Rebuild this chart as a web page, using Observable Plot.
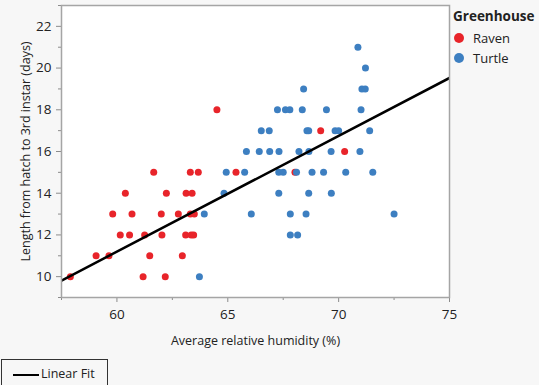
<!DOCTYPE html>
<html>
<head>
<meta charset="utf-8">
<script src="https://cdn.jsdelivr.net/npm/d3@7"></script>
<script src="https://cdn.jsdelivr.net/npm/@observablehq/plot@0.6"></script>
<style>
  html, body { margin: 0; padding: 0; background: #f7f7f7; }
  #wrap { position: relative; width: 539px; height: 385px; overflow: hidden; background: #f7f7f7; font-family: "Open Sans", sans-serif; color: #222; }
  #chart { position: absolute; left: 0; top: 0; }
  #legend { position: absolute; left: 453px; top: 7px; font-size: 13px; }
  #legend .title { font-weight: bold; font-size: 13.5px; margin-bottom: 3px; }
  #legend .item { display: flex; align-items: center; height: 20px; }
  #legend .sw { width: 10px; height: 10px; border-radius: 50%; margin: 0 9px 0 1px; }
  #fit { position: absolute; left: 1px; top: 359px; width: 107px; height: 40px; border: 1.5px solid #333; box-sizing: border-box; font-size: 12.5px; }
  #fit .ln { position: absolute; left: 11px; top: 14px; width: 26px; height: 2px; background: #000; }
  #fit .tx { position: absolute; left: 39px; top: 5px; }
</style>
</head>
<body>
<div id="wrap">
  <div id="chart"></div>
  <div id="legend"></div>
  <div id="fit"><div class="ln"></div><div class="tx">Linear Fit</div></div>
</div>
<script>
// ---- data ----
const groups = ["Raven", "Turtle"];
const groupColors = ["#e8242a", "#3d7fc1"];

const ravenX = [57.9, 61.18, 62.18,
  59.06, 59.64, 61.48, 62.95,
  60.15, 60.57, 61.25, 62.03, 63.10, 63.35, 63.46,
  59.81, 60.68, 62.0, 62.77, 63.31, 63.49,
  60.38, 62.23, 63.12, 63.39,
  61.66, 63.31, 63.67, 65.37, 68.03,
  70.27,
  69.19,
  64.51];
const ravenY = [10, 10, 10,
  11, 11, 11, 11,
  12, 12, 12, 12, 12, 12, 12,
  13, 13, 13, 13, 13, 13,
  14, 14, 14, 14,
  15, 15, 15, 15, 15,
  16,
  17,
  18];

const turtleX = [63.72,
  67.82, 68.15,
  63.94, 66.06, 67.82, 68.53, 72.5,
  64.83, 67.30, 68.65, 69.67,
  64.93, 65.76, 67.30, 67.5, 68.1, 68.8, 69.32, 70.32, 71.54,
  65.84, 66.42, 66.89, 67.31, 68.21, 68.66, 69.66, 70.96,
  66.51, 66.87, 68.57, 68.65, 69.84, 70.0, 71.40,
  67.24, 67.6, 67.8, 68.36, 69.45, 71.01,
  68.42, 71.05, 71.2,
  71.21,
  70.87];
const turtleY = [10,
  12, 12,
  13, 13, 13, 13, 13,
  14, 14, 14, 14,
  15, 15, 15, 15, 15, 15, 15, 15, 15,
  16, 16, 16, 16, 16, 16, 16, 16,
  17, 17, 17, 17, 17, 17, 17,
  18, 18, 18, 18, 18, 18,
  19, 19, 19,
  20,
  21];

// linear fit coefficients
const fitIntercept = -22.1;
const fitSlope = 0.555;

const xDomain = [57.5, 75];
const yDomain = [9, 23];
const xTicks = [60, 65, 70, 75];
const xMinorTicks = [57.5, 62.5, 67.5, 72.5];
const yTicks = [10, 12, 14, 16, 18, 20, 22];
const yMinorTicks = [9, 11, 13, 15, 17, 19, 21, 23];
const xLabel = "Average relative humidity (%)";
const yLabel = "Length from hatch to 3rd instar (days)";
const legendTitle = "Greenhouse";

// ---- build table ----
const data = [
  ...ravenX.map((x, i) => ({x, y: ravenY[i], g: "Raven"})),
  ...turtleX.map((x, i) => ({x, y: turtleY[i], g: "Turtle"}))
];
const fit = xDomain.map(x => ({x, y: fitIntercept + fitSlope * x}));

const chart = Plot.plot({
  width: 539,
  height: 350,
  marginLeft: 61,
  marginRight: 90,
  marginTop: 5,
  marginBottom: 53,
  style: {background: "transparent", fontFamily: "'Open Sans', sans-serif", fontSize: "13px", color: "#222"},
  x: {domain: xDomain},
  y: {domain: yDomain},
  color: {domain: groups, range: groupColors},
  marks: [
    Plot.frame({fill: "white", stroke: null}),
    Plot.dot(data, {x: "x", y: "y", fill: "g", r: 3.5}),
    Plot.line(fit, {x: "x", y: "y", stroke: "black", strokeWidth: 2.5, clip: true}),
    Plot.axisX(xTicks, {tickSize: 5, tickPadding: 7, stroke: "#8c8c8c", fill: "#222", fontSize: 13.5,
      label: xLabel, labelAnchor: "center", labelArrow: "none", labelOffset: 47}),
    Plot.axisX(xMinorTicks, {tickSize: 3, stroke: "#8c8c8c", text: null, label: null}),
    Plot.axisY(yTicks, {tickSize: 5, tickPadding: 5, stroke: "#8c8c8c", fill: "#222", fontSize: 13.5,
      label: yLabel, labelAnchor: "center", labelArrow: "none", labelOffset: 40}),
    Plot.axisY(yMinorTicks, {tickSize: 3, stroke: "#8c8c8c", text: null, label: null}),
    Plot.frame({stroke: "#a5a5a5", strokeWidth: 1.5})
  ]
});
document.getElementById("chart").appendChild(chart);

chart.querySelectorAll("g[aria-label='x-axis label'] text, g[aria-label='y-axis label'] text").forEach(t => t.setAttribute("font-size", "12.5"));

// ---- Greenhouse legend ----
const lg = document.getElementById("legend");
const t = document.createElement("div");
t.className = "title"; t.textContent = legendTitle; lg.appendChild(t);
groups.forEach((g, i) => {
  const it = document.createElement("div"); it.className = "item";
  const sw = document.createElement("div"); sw.className = "sw"; sw.style.background = groupColors[i];
  const tx = document.createElement("span"); tx.textContent = g;
  it.appendChild(sw); it.appendChild(tx); lg.appendChild(it);
});
</script>
</body>
</html>
